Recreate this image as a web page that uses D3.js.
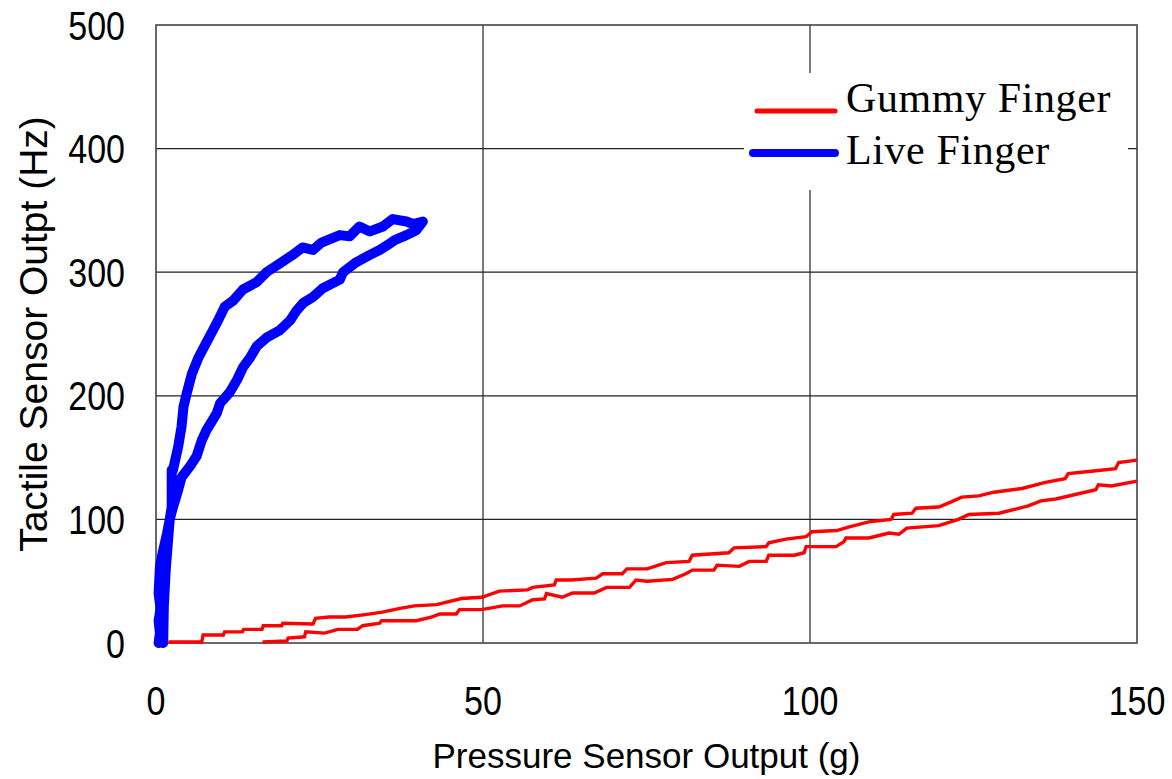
<!DOCTYPE html>
<html>
<head>
<meta charset="utf-8">
<script src="https://cdn.jsdelivr.net/npm/d3@7"></script>
<style>
  body { margin: 0; background: #fff; }
  svg { display: block; }
</style>
</head>
<body>
<script>
// Axis setup
var xTicks = [0, 50, 100, 150];
var yTicks = [0, 100, 200, 300, 400, 500];

// Live finger loop: loading branch (outer) then unloading branch (inner)
var liveX = [1.1, 1.2, 1.5, 1.8, 2.1, 2.4, 2.4, 2.6, 3.4, 3.9, 4.2, 4.7, 5.5, 6.5, 7.7, 8.5, 9.5, 10.5, 11.8, 13.3, 15.4, 16.9, 18.9, 20.9, 22.4, 24.0, 25.3, 28.1, 29.6, 31.1, 32.7, 34.7, 36.2, 38.3, 39.3, 40.8,
             39.8, 38.3, 36.5, 35.4, 34.2, 32.7, 30.6, 28.6, 28.1, 25.5, 24.0, 22.5, 21.5, 20.5, 18.9, 16.9, 15.4, 14.4, 13.3, 12.4, 11.3, 9.8, 9.3, 7.7, 7.0, 6.2, 5.2, 3.9, 3.4, 2.6, 2.1, 1.7, 1.1, 0.6, 0.4, 0.7, 0.4, 0.6, 0.4];
var liveY = [0, 30, 60, 80, 100, 110, 140, 140, 159, 175, 191, 202, 218, 231, 243, 251, 261, 272, 277, 286, 292, 300, 307, 314, 320, 318, 324, 330, 329, 337, 333, 337, 343, 341, 339, 341,
             334, 330, 326, 322, 318, 314, 308, 300, 294, 287, 280, 275, 269, 261, 253, 247, 240, 231, 223, 213, 203, 194, 186, 172, 164, 151, 143, 134, 124, 110, 100, 89, 75, 62, 40, 28, 18, 8, 0];

// Gummy finger: upper staircase
var gummyUpX = [1.9, 7.0, 7.2, 10.3, 10.5, 13.2, 13.4, 16.2, 16.4, 19.2, 19.4, 24.0, 24.4, 26.5, 29.0, 32.0, 34.6, 37.3, 39.5, 42.9, 46.7, 49.8, 52.5, 56.8, 57.6, 60.9, 61.2, 63.5, 67.3, 68.3, 71.3, 72.0, 75.1, 78.0, 81.5, 82.0, 87.6, 88.4, 93.3, 93.7, 96.3, 99.4, 100.3, 104.1, 106.0, 109.0, 112.4, 112.8, 115.6, 116.2, 119.7, 121.5, 123.2, 125.8, 128.1, 132.4, 136.0, 139.0, 139.5, 143.0, 146.7, 147.2, 150.0];
var gummyUpY = [0.8, 0.8, 6.5, 6.5, 9, 9, 11, 11, 14, 14, 16, 15.4, 20, 21, 21, 23, 25, 28, 30, 31, 36, 37, 42, 43, 45, 47, 51, 51, 52.5, 56, 56, 60, 60, 65, 66, 71, 73, 77, 78, 81, 84, 86, 90, 91, 94, 98, 100, 104, 105, 109, 110, 114, 118, 119, 122, 125, 130, 133, 137, 139, 141, 146, 148];

// Gummy finger: lower staircase
var gummyLowX = [16.3, 20.0, 20.2, 22.7, 22.9, 25.8, 27.8, 30.8, 31.6, 34.2, 34.5, 37.3, 39.8, 42.1, 43.4, 45.9, 46.4, 49.8, 53.0, 55.6, 57.6, 59.4, 59.7, 62.1, 63.7, 67.0, 68.9, 72.4, 73.4, 75.1, 79.0, 81.0, 82.0, 85.3, 85.8, 89.2, 90.7, 93.3, 93.7, 97.6, 99.1, 99.4, 104.0, 105.2, 105.5, 109.0, 112.1, 113.6, 114.8, 119.7, 122.7, 124.3, 128.9, 133.4, 135.3, 137.6, 143.7, 144.1, 146.1, 150.0];
var gummyLowY = [0.8, 1.6, 4, 5, 9, 8, 11, 11, 14, 16, 18, 18, 18, 21, 23.5, 23.5, 27, 27, 30, 30, 35, 35.6, 40, 37, 40.5, 40.5, 45, 45, 51, 50, 51.5, 56, 59, 59, 63, 62, 66, 66, 71, 71, 73, 78, 78, 82, 85, 85, 89, 88, 93, 95, 100, 104, 105, 111, 115, 116.5, 124, 128, 127, 131];

var legendNames = ["Gummy Finger", "Live Finger"];
var legendColors = ["#ff0000", "#0000ff"];

var W = 1172, H = 779;
var svg = d3.select("body").append("svg")
    .attr("width", W).attr("height", H);

var x = d3.scaleLinear().domain([0, 150]).range([156, 1137]);
var y = d3.scaleLinear().domain([0, 500]).range([643, 25]);

// Gridlines
svg.append("g").selectAll("line.gx")
    .data([50, 100]).enter().append("line")
    .attr("x1", d => x(d)).attr("x2", d => x(d))
    .attr("y1", y(500)).attr("y2", y(0))
    .attr("stroke", "#222").attr("stroke-width", 1.2);
svg.append("g").selectAll("line.gy")
    .data([100, 200, 300, 400]).enter().append("line")
    .attr("x1", x(0)).attr("x2", x(150))
    .attr("y1", d => y(d)).attr("y2", d => y(d))
    .attr("stroke", "#222").attr("stroke-width", 1.2);

// Legend background hides the grid behind it
svg.append("rect")
    .attr("x", 744).attr("y", 73).attr("width", 384).attr("height", 117)
    .attr("fill", "#fff");

// Frame
svg.append("rect")
    .attr("x", x(0)).attr("y", y(500))
    .attr("width", x(150) - x(0)).attr("height", y(0) - y(500))
    .attr("fill", "none").attr("stroke", "#444").attr("stroke-width", 1.6);

// Tick labels
svg.append("g").selectAll("text")
    .data(xTicks).enter().append("text")
    .attr("transform", d => "translate(" + x(d) + ",715) scale(0.83,1)")
    .attr("text-anchor", "middle")
    .style("font-family", "'Liberation Sans', Arial, sans-serif")
    .style("font-size", "41px")
    .text(d => d);
svg.append("g").selectAll("text")
    .data(yTicks).enter().append("text")
    .attr("transform", d => "translate(125," + (y(d) + 14.5) + ") scale(0.83,1)")
    .attr("text-anchor", "end")
    .style("font-family", "'Liberation Sans', Arial, sans-serif")
    .style("font-size", "41px")
    .text(d => d);

// Axis titles
svg.append("text")
    .attr("x", (x(0) + x(150)) / 2).attr("y", 768)
    .attr("text-anchor", "middle")
    .style("font-family", "'Liberation Sans', Arial, sans-serif")
    .style("font-size", "35px")
    .text("Pressure Sensor Output (g)");
svg.append("text")
    .attr("transform", "translate(47," + ((y(0) + y(500)) / 2) + ") rotate(-90)")
    .attr("text-anchor", "middle")
    .style("font-family", "'Liberation Sans', Arial, sans-serif")
    .style("font-size", "39px")
    .text("Tactile Sensor Outpt (Hz)");

// Series
var line = d3.line().x(d => x(d[0])).y(d => y(d[1]));

var gummyUp = d3.zip(gummyUpX, gummyUpY);
var gummyLow = d3.zip(gummyLowX, gummyLowY);
var live = d3.zip(liveX, liveY);

[gummyUp, gummyLow].forEach(function(pts) {
    svg.append("path")
        .attr("d", line(pts))
        .attr("fill", "none")
        .attr("stroke", "#ff0000")
        .attr("stroke-width", 3.4)
        .attr("stroke-linejoin", "miter");
});

svg.append("path")
    .attr("d", line(live))
    .attr("fill", "none")
    .attr("stroke", "#0000ff")
    .attr("stroke-width", 10)
    .attr("stroke-linejoin", "round")
    .attr("stroke-linecap", "round");

// Legend
var leg = svg.append("g").selectAll("g")
    .data(legendNames).enter().append("g");
leg.append("line")
    .attr("x1", (d, i) => i ? 753 : 757).attr("x2", 835)
    .attr("y1", (d, i) => i ? 153 : 111).attr("y2", (d, i) => i ? 153 : 111)
    .attr("stroke", (d, i) => legendColors[i])
    .attr("stroke-width", (d, i) => i ? 8 : 5)
    .attr("stroke-linecap", "round");
leg.append("text")
    .attr("x", 846).attr("y", (d, i) => i ? 164 : 112)
    .style("font-family", "'Liberation Serif', 'Times New Roman', serif")
    .style("font-size", "42px")
    .style("letter-spacing", "0.6px")
    .text(d => d);
</script>
</body>
</html>
